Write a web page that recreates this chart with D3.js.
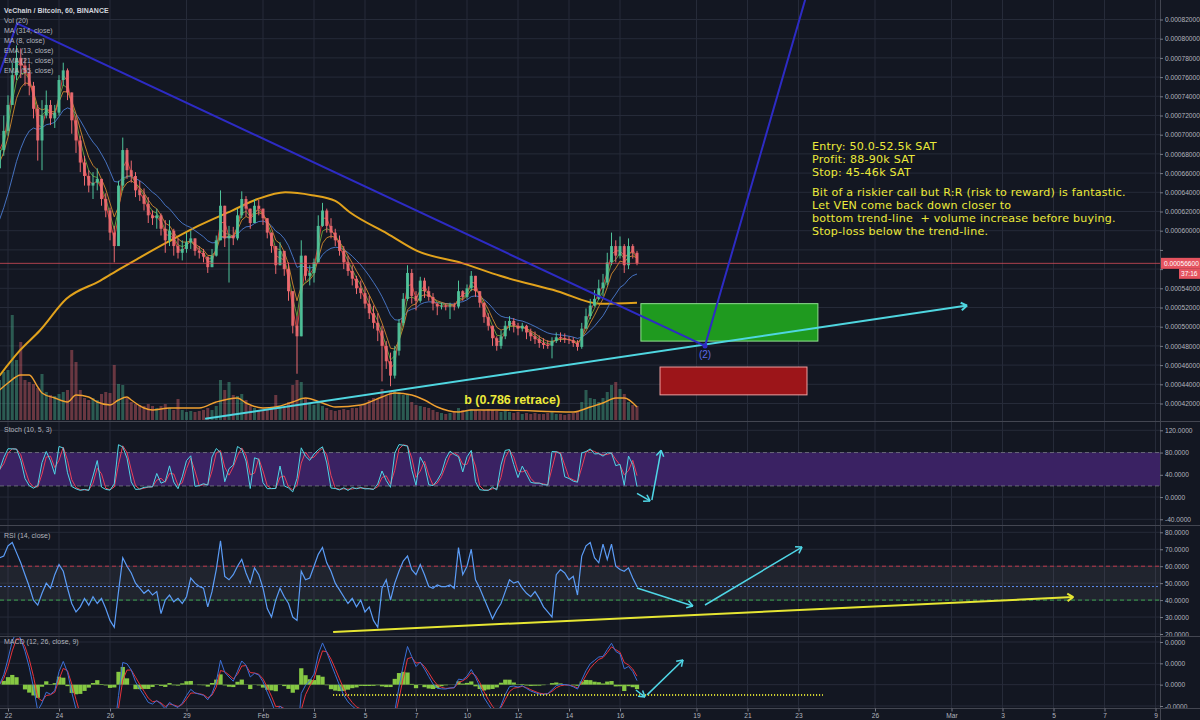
<!DOCTYPE html>
<html><head><meta charset="utf-8">
<script src="https://cdn.jsdelivr.net/npm/d3@7/dist/d3.min.js"></script>
<style>
html,body{margin:0;padding:0;background:#131722;}
svg{display:block;font-family:"Liberation Sans",Arial,sans-serif;}
</style></head><body>
<svg id="chart" width="1200" height="720"></svg>
<script>
// ---------- DATA (prices in satoshi, 4h bars) ----------
const firstBar = "2018-01-21T16:00:00Z";
const barHours = 4;
const outage = ["2018-02-08T12:00:00Z", "2018-02-09T12:00:00Z"]; // Binance downtime (no bars)
const firstOpen = 66500;
const closes = [
68400,70400,73100,76200,78000,77200,76500,75100,72700,69400,
72000,73100,71700,72300,75700,76700,74400,71500,69400,67100,
65700,64700,65000,65400,63300,62100,59800,58400,64700,68400,
66300,65700,64200,63700,62800,61600,61300,61600,60200,59000,
60000,58400,57700,58100,58800,59200,57900,57700,57300,56200,
57400,59000,62600,59200,59500,59200,61600,63300,62300,60800,
62600,62300,61300,59800,58400,56400,57900,56000,53700,50100,
49000,57400,55300,55600,56700,60500,62100,60500,59800,59000,
57900,56700,55800,55000,54000,53500,52400,51400,50400,49600,
48000,46400,44900,47500,50400,52900,55600,53200,52700,54800,
53700,53100,52400,52100,52200,52100,52200,52100,53700,53100,
54000,55300,53700,52500,51000,50100,48800,48000,49000,50100,
50600,50100,49800,50100,49400,49000,48700,48300,48100,48000,
48500,48900,48800,48700,48600,48300,47900,49800,51100,52200,
52900,54000,54600,56700,58400,57400,58400,56400,58400,57700,56600];
const highs = [
70400,72000,74100,77500,79300,79000,78000,77400,75500,73100,
73600,74600,73600,73100,76200,77500,76900,74100,72000,69900,
67800,66300,66100,66500,65400,63900,62400,60500,65200,69700,
68600,67300,66100,65200,64400,63500,62100,62300,61800,61100,
61100,60200,59200,59000,59800,60000,59200,58400,58100,57300,
58100,59500,64200,61300,60500,60400,62300,64100,63600,62300,
63300,63200,62100,61300,59800,58400,58800,57900,56700,52900,
51100,59000,57400,56400,57100,61600,62900,62300,61300,60200,
59500,58400,57400,56400,55300,54800,54200,53200,52200,51400,
50100,48500,47300,48000,50800,53500,56400,56000,53700,55200,
55100,54200,53500,52500,52500,52400,52500,52500,54800,53800,
54400,55800,55200,53500,52200,51400,50100,49000,49600,50600,
51100,50900,50400,50400,50200,49800,49500,49100,48800,48600,
48900,49400,49400,49300,49000,48900,48600,50400,51900,52900,
53800,54900,55500,57700,59800,59000,59400,58600,59200,58600,57900];
const lows = [
66600,67800,69900,73100,75700,75900,75100,74100,71700,67300,
66300,71700,71000,70700,72000,75100,73600,70100,68100,66100,
64700,64000,63300,64200,62600,61400,59000,56700,58400,64200,
65400,65000,63500,63100,62100,60800,60600,60200,59500,57700,
58400,57400,57100,56900,57700,58100,57400,57100,56700,55600,
56700,57300,59000,58300,54600,58500,59000,61300,61500,60200,
61100,61600,60600,59200,57700,55500,56700,55300,52700,49300,
45100,49000,54800,54300,54600,56700,60400,59800,59200,58400,
57400,56000,55300,54300,53400,52900,51900,50800,49800,48500,
44300,45600,43800,44600,47000,50100,52700,52400,51700,52500,
53000,52700,51700,51200,51800,51700,50800,51700,51900,52700,
52900,53700,53100,52000,50400,49600,48000,47500,47700,48700,
49600,49400,49100,49500,48700,48500,48200,47800,47700,47700,
46700,48300,48400,48300,48200,47900,47500,47700,49800,50800,
52100,52800,53200,54300,56400,56700,57100,55600,56000,57100,56400];
const volumes = [
40,48,50,105,60,78,40,38,36,32,
46,28,25,24,26,28,30,70,58,30,
22,20,22,20,26,28,27,55,36,35,
22,18,16,15,14,16,14,12,14,16,
12,10,21,10,8,9,8,9,10,12,
10,14,40,30,38,25,24,26,20,14,
12,10,9,10,12,25,14,12,18,35,
40,38,22,16,15,18,14,12,10,9,
10,11,10,12,12,14,16,20,22,21,
31,24,28,30,28,25,26,18,15,14,
13,12,10,8,7,6,7,8,12,10,
9,11,10,9,10,11,10,9,8,9,
8,7,8,6,7,6,7,6,6,7,
8,6,6,5,6,7,8,18,30,22,
21,18,22,28,35,38,31,26,18,15,14];
// Vol(20) moving average: bar index -> level
const volMaBars = [0,2,5,7,9,10,13,16,18,21,23,26,28,30,31,34,36,40,47,51,56,58,62,65,69,72,76,79,85,90,93,97,100,103,108,111,117,135,139,142,145,147,150];
const volMaValues = [30,37,45,45,33,27,22,18,25,23,18,15,20,23,20,12,10,12,12,18,22,17,12,13,18,22,17,13,15,23,27,25,20,13,8,10,10,8,13,17,22,22,13];
// RSI(14), one value per 4h bar
const rsiValues = [
65,66,72,74,68,62,55,48,40,37,
44,50,47,55,61,57,47,38,33,36,
41,37,42,38,41,35,28,24,45,65,
60,56,50,47,44,46,43,45,32,40,
43,39,41,38,42,53,50,48,47,36,
45,58,75,54,52,55,60,64,56,50,
59,55,47,35,30,40,47,42,38,30,
28,57,52,53,60,67,71,62,57,50,
46,42,38,41,36,40,33,36,28,24,
47,52,40,50,57,63,66,58,55,61,
55,48,47,49,48,48,49,47,71,55,
60,70,52,47,41,35,29,34,38,45,
52,50,51,47,44,42,45,41,36,33,
30,55,58,56,52,54,43,66,72,74,
65,62,73,64,73,60,58,57,59,53,48];

// MA(314)
const ma314Dates = ["2018-01-21T16:00Z","2018-01-22T11:00Z","2018-01-23T06:00Z","2018-01-24T07:00Z","2018-01-25T15:00Z",
"2018-01-26T09:00Z","2018-01-27T04:00Z","2018-01-28T06:00Z","2018-01-29T11:00Z","2018-01-30T19:00Z","2018-01-31T19:00Z",
"2018-02-01T21:00Z","2018-02-02T22:00Z","2018-02-03T20:00Z","2018-02-04T10:00Z","2018-02-05T21:00Z","2018-02-07T01:00Z",
"2018-02-09T20:00Z","2018-02-11T07:00Z","2018-02-13T13:00Z","2018-02-15T05:00Z","2018-02-16T16:00Z"];
const ma314Values = [44900,47500,49600,52900,54800,56000,57200,58800,60500,62100,63300,64000,63700,63100,61900,59700,57900,56600,55300,53700,52400,52500];
const emaSeeds = {e13: 67500, e21: 66500, e55: 60000};

// ticks
const dateTicks = ["2018-01-22","2018-01-24","2018-01-26","2018-01-29","2018-02-01","2018-02-03","2018-02-05","2018-02-07",
"2018-02-10","2018-02-12","2018-02-14","2018-02-16","2018-02-19","2018-02-21","2018-02-23","2018-02-26","2018-03-01",
"2018-03-03","2018-03-05","2018-03-07","2018-03-09"];
const priceTicks = [42000,44000,46000,48000,50000,52000,54000,56000,58000,60000,62000,64000,66000,68000,70000,72000,74000,76000,78000,80000,82000];
const stochTicks = [120,80,40,0,-40];
const rsiTicks = [80,70,60,50,40,30,20];
const macdTicks = [0.00002,0.00001,0,-0.00001];
const lastPrice = 56600;
const countdown = "37:16";

// drawings (date, value)
const waveLine = [["2018-01-21T16:00Z",76400],["2018-01-22T08:30Z",81600],["2018-02-19T08:00Z",48000],["2018-02-23T09:00Z",85100]];
const wavePivot = ["2018-02-19T08:00Z",48000,"(2)"];
const supportLine = [["2018-01-29T17:30Z",40400],["2018-03-01T14:40Z",52200]];
const entryZone = ["2018-02-16T19:40Z","2018-02-23T18:15Z",52400,48500];
const stopZone = ["2018-02-17T13:40Z","2018-02-23T08:00Z",45800,42900];
const retraceLabel = ["2018-02-09T12:00Z",42000,"b (0.786 retrace)"];
const noteLines = ["Entry: 50.0-52.5k SAT","Profit: 88-90k SAT","Stop: 45-46k SAT","",
"Bit of a riskier call but R:R (risk to reward) is fantastic.","Let VEN come back down closer to",
"bottom trend-line  + volume increase before buying.","Stop-loss below the trend-line."];
const stochArrows = [[["2018-02-16T16:00Z",6.7],["2018-02-17T04:20Z",-7]],[["2018-02-17T06:00Z",-5.3],["2018-02-17T14:40Z",84]]];
const rsiArrows = [[["2018-02-16T16:00Z",47.1],["2018-02-18T20:40Z",36.5]],[["2018-02-19T08:00Z",37.1],["2018-02-23T03:20Z",71.3]]];
const rsiTrend = [["2018-02-03T18:00Z",21.2],["2018-03-05T18:40Z",41.8]];
const rsiLevels = {upper:60, mid:48, lower:40};
const macdArrows = [[["2018-02-16T15:00Z",-0.0000025],["2018-02-16T23:30Z",-0.0000058]],[["2018-02-17T01:30Z",-0.0000048],["2018-02-18T11:20Z",0.0000116]]];
const macdDotted = [["2018-02-03T18:00Z",-0.0000048],["2018-02-23T23:00Z",-0.0000048]];

const legend = ["VeChain / Bitcoin, 60, BINANCE","Vol (20)","MA (314, close)","MA (8, close)","EMA (13, close)","EMA (21, close)","EMA (55, close)"];

// ---------- BUILD ----------
const P = d => new Date(d.length <= 10 ? d + "T00:00:00Z" : d);
const barTimes = [];
{ let t = +P(firstBar); const g0 = +P(outage[0]), g1 = +P(outage[1]);
  while (barTimes.length < closes.length) { if (t < g0 || t >= g1) barTimes.push(new Date(t)); t += barHours * 3600e3; } }
const bars = closes.map((c, i) => {
  const o = i ? closes[i - 1] : firstOpen;
  return {t: barTimes[i], o, c, h: Math.max(highs[i], o, c), l: Math.min(lows[i], o, c), v: volumes[i]};
});

const sma = (a, n) => a.map((_, i) => d3.mean(a.slice(Math.max(0, i - n + 1), i + 1)));
const ema = (a, n, seed) => { const k = 2 / (n + 1); let p = seed; return a.map(v => (p = (p === undefined) ? v : p + k * (v - p))); };

// indicator periods are given in hours of the 60-minute chart, converted to 4h bars
const hb = h => h / barHours;
const ma8 = sma(closes, Math.round(hb(8)));
const ema13 = ema(closes, hb(13), emaSeeds.e13);
const ema21 = ema(closes, hb(21), emaSeeds.e21);
const ema55 = ema(closes, hb(55), emaSeeds.e55);
const stochLen = Math.round(hb(10));
const rawK = bars.map((b, i) => { const w = bars.slice(Math.max(0, i - stochLen + 1), i + 1);
  const hh = d3.max(w, d => d.h), ll = d3.min(w, d => d.l); return hh === ll ? 50 : 100 * (b.c - ll) / (hh - ll); });
const stochK = sma(rawK, Math.max(1, Math.round(hb(5))));
const stochD = sma(stochK, 2);
const emaFast = ema(closes, hb(12)), emaSlow = ema(closes, hb(26));
const macdLine = emaFast.map((f, i) => (f - emaSlow[i]) / 1e8);
const signal = ema(macdLine, hb(9));
const hist = macdLine.map((m, i) => m - signal[i]);

// ---------- SCALES ----------
const W = 1200, H = 720, AX = 1160;
const x = d3.scaleUtc()
  .domain([P("2018-01-22"), P("2018-02-08T12:00:00Z"), P("2018-02-09T12:00:00Z"), P("2018-03-09")])
  .range([8, 454.25, 454.25, 1155.5]);
const yP = d3.scaleLinear().domain([42000, 82000]).range([403.5, 19.5]);
const yV = d3.scaleLinear().domain([0, 100]).range([420, 320]);
const yS = d3.scaleLinear().domain([-40, 120]).range([519.3, 430.3]);
const yR = d3.scaleLinear().domain([20, 80]).range([634, 532.3]);
const yM = d3.scaleLinear().domain([-0.00001, 0.00002]).range([706, 642]);
const panels = {main: [0, 421], stoch: [422, 525], rsi: [526, 636], macd: [637, 708]};

const svg = d3.select("#chart");
svg.append("rect").attr("width", W).attr("height", H).attr("fill", "#131722");
const defs = svg.append("defs");
Object.entries(panels).forEach(([k, [t, b]]) => {
  defs.append("clipPath").attr("id", "clip-" + k).append("rect").attr("x", 0).attr("y", t).attr("width", AX).attr("height", b - t);
  defs.append("clipPath").attr("id", "clipax-" + k).append("rect").attr("x", AX).attr("y", t).attr("width", W - AX).attr("height", b - t);
});
const GRID = "#262b39";
const gGrid = svg.append("g");
dateTicks.forEach(d => gGrid.append("line").attr("x1", x(P(d))).attr("x2", x(P(d))).attr("y1", 0).attr("y2", 708).attr("stroke", GRID));
function hGrid(ticks, y, key) { const [t, b] = panels[key];
  ticks.forEach(v => { const yy = y(v); if (yy > t && yy < b) gGrid.append("line").attr("x1", 0).attr("x2", AX).attr("y1", yy).attr("y2", yy).attr("stroke", GRID); }); }
hGrid(priceTicks, yP, "main"); hGrid(stochTicks, yS, "stoch"); hGrid(rsiTicks, yR, "rsi"); hGrid(macdTicks, yM, "macd");

const gMain = svg.append("g").attr("clip-path", "url(#clip-main)");
const UP = "#4fc39a", DN = "#ec6a70";
gMain.append("g").selectAll("rect").data(bars).join("rect")
  .attr("x", d => x(d.t) - 1.5).attr("width", 3).attr("y", d => yV(d.v)).attr("height", d => yV(0) - yV(d.v))
  .attr("fill", d => d.c >= d.o ? UP : DN).attr("opacity", 0.4);
gMain.append("path").datum(volMaBars.map((b, i) => [bars[b].t, volMaValues[i]])).attr("fill", "none").attr("stroke", "#f0a030").attr("stroke-width", 1.4)
  .attr("d", d3.line().curve(d3.curveMonotoneX).x(d => x(d[0])).y(d => yV(d[1])));
gMain.append("path").datum(ma314Dates.map((d, i) => [P(d), ma314Values[i]])).attr("fill", "none")
  .attr("stroke", "#e1a21c").attr("stroke-width", 2).attr("d", d3.line().curve(d3.curveMonotoneX).x(d => x(d[0])).y(d => yP(d[1])));
const lineP = d3.line().x((_, i) => x(bars[i].t)).y(v => yP(v));
[[ema55, "#4a7bd0"], [ema21, "#d08a2e"], [ema13, "#6ca33b"], [ma8, "#e8413c"]].forEach(([s, c]) =>
  gMain.append("path").datum(s).attr("fill", "none").attr("stroke", c).attr("stroke-width", 1).attr("opacity", 0.9).attr("d", lineP));
const gC = gMain.append("g");
gC.selectAll("line").data(bars).join("line").attr("x1", d => x(d.t)).attr("x2", d => x(d.t))
  .attr("y1", d => yP(d.h)).attr("y2", d => yP(d.l)).attr("stroke", d => d.c >= d.o ? UP : DN).attr("stroke-width", 1);
gC.selectAll("rect").data(bars).join("rect").attr("x", d => x(d.t) - 1.5).attr("width", 3)
  .attr("y", d => yP(Math.max(d.o, d.c))).attr("height", d => Math.max(1, Math.abs(yP(d.o) - yP(d.c))))
  .attr("fill", d => d.c >= d.o ? UP : DN).attr("opacity", 0.9);
gMain.append("line").attr("x1", 0).attr("x2", AX).attr("y1", yP(lastPrice)).attr("y2", yP(lastPrice)).attr("stroke", "#e0505c").attr("stroke-width", 1).attr("opacity", 0.75);

function arrow(g, pts, color, w, head = true, dash = null) {
  const p = g.append("path").attr("d", d3.line()(pts)).attr("stroke", color).attr("stroke-width", w).attr("fill", "none");
  if (dash) p.attr("stroke-dasharray", dash);
  if (head) { const [x1, y1] = pts[pts.length - 2], [x2, y2] = pts[pts.length - 1]; const a = Math.atan2(y2 - y1, x2 - x1);
    [a + Math.PI * 0.82, a - Math.PI * 0.82].forEach(b => g.append("line").attr("x1", x2).attr("y1", y2)
      .attr("x2", x2 + 7 * Math.cos(b)).attr("y2", y2 + 7 * Math.sin(b)).attr("stroke", color).attr("stroke-width", w)); }
}
function zone(g, z, fill, stroke) {
  g.append("rect").attr("x", x(P(z[0]))).attr("width", x(P(z[1])) - x(P(z[0]))).attr("y", yP(z[2])).attr("height", yP(z[3]) - yP(z[2]))
    .attr("fill", fill).attr("stroke", stroke).attr("stroke-width", 1);
}
zone(gMain, entryZone, "#1f9a1f", "#8fe08f");
zone(gMain, stopZone, "#9c1519", "#f0a0a0");
arrow(gMain, supportLine.map(d => [x(P(d[0])), yP(d[1])]), "#4fd6e0", 2);
gMain.append("path").attr("d", d3.line()(waveLine.map(d => [x(P(d[0])), yP(d[1])]))).attr("stroke", "#2d2bc4").attr("stroke-width", 2).attr("fill", "none");
gMain.append("circle").attr("cx", x(P(wavePivot[0]))).attr("cy", yP(wavePivot[1])).attr("r", 2.5).attr("fill", "#2d2bc4");
gMain.append("text").attr("x", x(P(wavePivot[0]))).attr("y", yP(wavePivot[1]) + 12).attr("text-anchor", "middle")
  .attr("fill", "#5d6be6").attr("font-size", 10).text(wavePivot[2]);
gMain.append("text").attr("x", x(P(retraceLabel[0])) + 10).attr("y", yP(retraceLabel[1])).attr("fill", "#ecea3a")
  .attr("font-size", 12.5).attr("font-weight", "bold").text(retraceLabel[2]);
const note = gMain.append("text").attr("fill", "#ecea3a").attr("font-size", 11.1).attr("letter-spacing", 0.22)
  .attr("font-family", "DejaVu Sans, sans-serif").attr("style", "white-space:pre");
let ny = 150;
noteLines.forEach(s => { if (s === "") { ny += 7; return; } note.append("tspan").attr("x", 812).attr("y", ny).text(s); ny += 13; });

// ---------- STOCH ----------
const gS = svg.append("g").attr("clip-path", "url(#clip-stoch)");
gS.append("rect").attr("x", 0).attr("width", AX).attr("y", yS(80)).attr("height", yS(20) - yS(80)).attr("fill", "#3a2263");
[80, 20].forEach(v => gS.append("line").attr("x1", 0).attr("x2", AX).attr("y1", yS(v)).attr("y2", yS(v)).attr("stroke", "#787b86").attr("stroke-dasharray", "4,3").attr("opacity", 0.8));
const lineS = d3.line().x((_, i) => x(bars[i].t)).y(v => yS(v));
gS.append("path").datum(stochD).attr("fill", "none").attr("stroke", "#e8405a").attr("stroke-width", 1).attr("d", lineS);
gS.append("path").datum(stochK).attr("fill", "none").attr("stroke", "#4fd6e6").attr("stroke-width", 1).attr("d", lineS);
stochArrows.forEach(a => arrow(gS, a.map(d => [x(P(d[0])), yS(d[1])]), "#4fd6e6", 1.5));

// ---------- RSI ----------
const gR = svg.append("g").attr("clip-path", "url(#clip-rsi)");
gR.append("rect").attr("x", 0).attr("width", AX).attr("y", yR(rsiLevels.upper)).attr("height", yR(rsiLevels.lower) - yR(rsiLevels.upper)).attr("fill", "#787b86").attr("opacity", 0.13);
gR.append("line").attr("x1", 0).attr("x2", AX).attr("y1", yR(rsiLevels.upper)).attr("y2", yR(rsiLevels.upper)).attr("stroke", "#c0394a").attr("stroke-dasharray", "4,3");
gR.append("line").attr("x1", 0).attr("x2", AX).attr("y1", yR(rsiLevels.lower)).attr("y2", yR(rsiLevels.lower)).attr("stroke", "#3fa34d").attr("stroke-dasharray", "4,3");
gR.append("line").attr("x1", 0).attr("x2", AX).attr("y1", yR(rsiLevels.mid)).attr("y2", yR(rsiLevels.mid)).attr("stroke", "#5b8def").attr("stroke-dasharray", "2,2");
gR.append("path").datum(rsiValues).attr("fill", "none").attr("stroke", "#5b9cf6").attr("stroke-width", 1.2)
  .attr("d", d3.line().x((_, i) => x(bars[i].t)).y(v => yR(v)));
rsiArrows.forEach(a => arrow(gR, a.map(d => [x(P(d[0])), yR(d[1])]), "#4fd6e6", 1.5));
arrow(gR, rsiTrend.map(d => [x(P(d[0])), yR(d[1])]), "#e6e633", 2);

// ---------- MACD ----------
const gM = svg.append("g").attr("clip-path", "url(#clip-macd)");
gM.selectAll("rect").data(hist).join("rect").attr("x", (_, i) => x(bars[i].t) - 2.1).attr("width", 4.25)
  .attr("y", v => Math.min(yM(v), yM(0))).attr("height", v => Math.abs(yM(v) - yM(0))).attr("fill", "#86c843");
const lineM = d3.line().x((_, i) => x(bars[i].t)).y(v => yM(v));
gM.append("path").datum(signal).attr("fill", "none").attr("stroke", "#e8323c").attr("stroke-width", 1).attr("d", lineM);
gM.append("path").datum(macdLine).attr("fill", "none").attr("stroke", "#3b6fd6").attr("stroke-width", 1).attr("d", lineM);
arrow(gM, macdDotted.map(d => [x(P(d[0])), yM(d[1])]), "#e6e633", 2, false, "1,2");
macdArrows.forEach(a => arrow(gM, a.map(d => [x(P(d[0])), yM(d[1])]), "#4fd6e6", 1.5));

// ---------- SEPARATORS / AXES ----------
const SEP = "#434651";
[421.5, 525.5, 636.5, 708.5].forEach(y => svg.append("line").attr("x1", 0).attr("x2", W).attr("y1", y).attr("y2", y).attr("stroke", SEP));
svg.append("line").attr("x1", AX + 0.5).attr("x2", AX + 0.5).attr("y1", 0).attr("y2", 720).attr("stroke", SEP);

const lp = yP(lastPrice);
function rightAxis(y, ticks, fmt, key) {
  const g = svg.append("g").attr("clip-path", `url(#clipax-${key})`).append("g").attr("transform", `translate(${AX},0)`)
    .call(d3.axisRight(y).tickValues(ticks).tickFormat(fmt).tickSize(3).tickPadding(2));
  g.select(".domain").remove();
  g.selectAll("line").attr("stroke", "#787b86");
  g.selectAll("text").attr("fill", "#b2b5be").attr("font-size", 6.6).attr("font-family", "Liberation Sans, Arial, sans-serif");
  return g;
}
const gyP = rightAxis(yP, priceTicks, v => (v / 1e8).toFixed(8), "main");
gyP.selectAll(".tick").filter(v => Math.abs(yP(v) - lp) < 14).select("text").remove();
rightAxis(yS, stochTicks, v => v.toFixed(4), "stoch");
rightAxis(yR, rsiTicks, v => v.toFixed(4), "rsi");
rightAxis(yM, macdTicks, v => v.toFixed(4), "macd");

const gx = svg.append("g").attr("transform", "translate(0,708.5)")
  .call(d3.axisBottom(x).tickValues(dateTicks.map(P)).tickSize(3).tickPadding(2)
    .tickFormat(d => d.getUTCDate() === 1 ? d3.utcFormat("%b")(d) : d3.utcFormat("%-d")(d)));
gx.select(".domain").remove();
gx.selectAll("line").attr("stroke", "#787b86");
gx.selectAll("text").attr("fill", "#b2b5be").attr("font-size", 6.6).attr("font-family", "Liberation Sans, Arial, sans-serif");

svg.append("rect").attr("x", AX + 1).attr("y", lp - 5.5).attr("width", W - AX - 1).attr("height", 11).attr("fill", "#e5535f");
svg.append("text").attr("x", AX + 4).attr("y", lp + 2.4).attr("fill", "#fff").attr("font-size", 6.6).text((lastPrice / 1e8).toFixed(8));
svg.append("rect").attr("x", 1179).attr("y", lp + 5.5).attr("width", 21).attr("height", 10).attr("fill", "#e5535f");
svg.append("text").attr("x", 1181).attr("y", lp + 12.8).attr("fill", "#fff").attr("font-size", 6.6).text(countdown);

const gL = svg.append("g").attr("font-size", 7).attr("fill", "#b2b5be");
legend.forEach((s, i) => gL.append("text").attr("x", 4).attr("y", 13 + i * 10).attr("fill", i ? "#b2b5be" : "#d1d4dc").attr("font-weight", i ? "normal" : "bold").text(s));
gL.append("text").attr("x", 4).attr("y", 432).text("Stoch (10, 5, 3)");
gL.append("text").attr("x", 4).attr("y", 537.5).text("RSI (14, close)");
gL.append("text").attr("x", 4).attr("y", 643.5).text("MACD (12, 26, close, 9)");
</script></body></html>
